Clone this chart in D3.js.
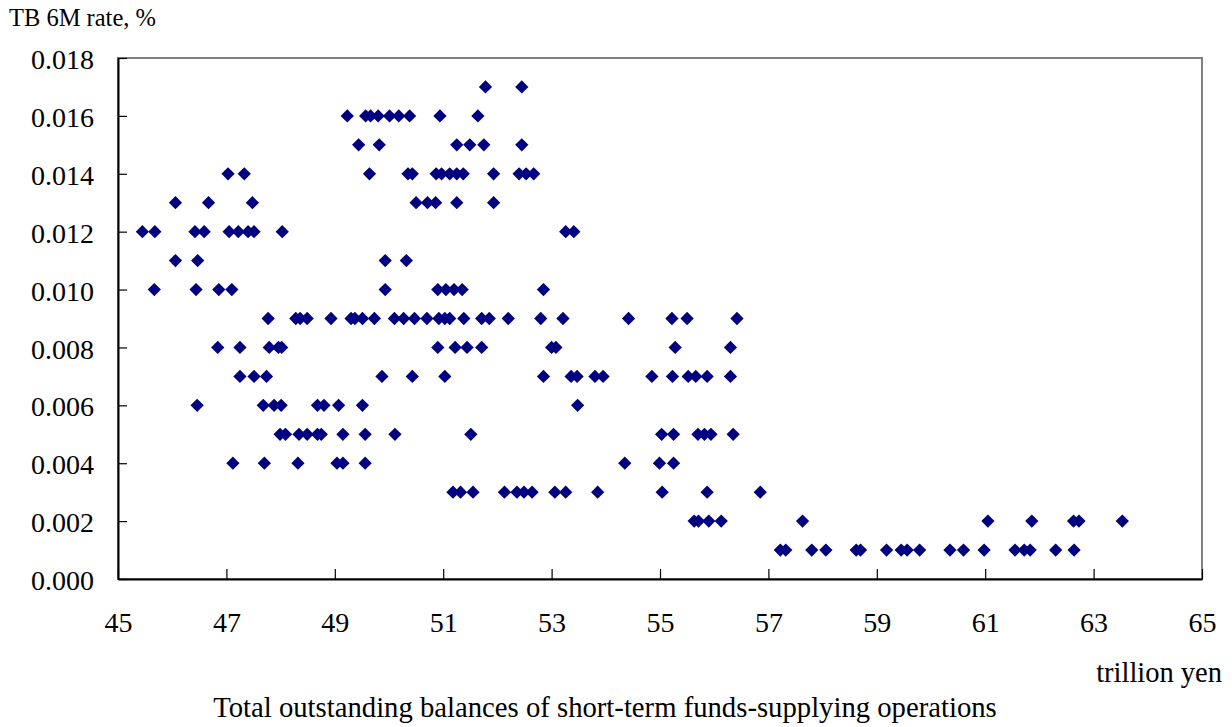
<!DOCTYPE html>
<html>
<head>
<meta charset="utf-8">
<script src="https://cdn.jsdelivr.net/npm/d3@7"></script>
<style>
  body { margin: 0; background: #fff; }
</style>
</head>
<body>
<svg id="chart" width="1232" height="727"></svg>
<script>
// balances (trillion yen), grouped by TB 6M rate (%)
var r017 = [51.78, 52.45]
var r016 = [49.23, 49.57, 49.66, 49.80, 50.01, 50.18, 50.38, 50.94, 51.64]
var r015 = [49.44, 49.82, 51.25, 51.49, 51.75, 52.45]
var r014 = [47.03, 47.33, 49.64, 50.35, 50.43, 50.87, 50.97, 51.12, 51.25, 51.37, 51.93, 52.40, 52.53, 52.67]
var r013 = [46.06, 46.67, 47.48, 50.50, 50.71, 50.86, 51.25, 51.93]
var r012 = [45.45, 45.68, 46.42, 46.59, 47.05, 47.22, 47.40, 47.51, 48.03, 53.26, 53.41]
var r011 = [46.06, 46.47, 49.93, 50.32]
var r010 = [45.67, 46.44, 46.86, 47.10, 49.93, 50.90, 51.05, 51.20, 51.35, 52.85]
var r009 = [47.77, 48.28, 48.36, 48.49, 48.93, 49.30, 49.37, 49.51, 49.73, 50.10, 50.27, 50.47, 50.70,
            50.92, 51.03, 51.12, 51.38, 51.71, 51.85, 52.20, 52.80, 53.21, 54.42, 55.22, 55.50, 56.42]
var r008 = [46.84, 47.25, 47.79, 47.96, 48.02, 50.90, 51.22, 51.44, 51.71, 53.00, 53.08, 55.28, 56.30]
var r007 = [47.25, 47.51, 47.74, 49.87, 50.43, 51.03, 52.85, 53.36, 53.47, 53.80, 53.95, 54.85, 55.23,
            55.52, 55.66, 55.87, 56.30]
var r006 = [46.46, 47.68, 47.88, 48.01, 48.68, 48.80, 49.07, 49.51, 53.48]
var r005 = [47.99, 48.09, 48.34, 48.49, 48.68, 48.75, 49.15, 49.56, 50.11, 51.51, 55.03, 55.25, 55.70,
            55.82, 55.94, 56.35]
var r004 = [47.12, 47.70, 48.32, 49.04, 49.15, 49.56, 54.35, 54.99, 55.25]
var r003 = [51.18, 51.32, 51.55, 52.13, 52.36, 52.49, 52.64, 53.06, 53.26, 53.85, 55.04, 55.87, 56.85]
var r002 = [55.63, 55.71, 55.90, 56.13, 57.63, 61.05, 61.86, 62.63, 62.73, 63.53]
var r001 = [57.22, 57.32, 57.80, 58.06, 58.62, 58.70, 59.18, 59.45, 59.56, 59.79, 60.35, 60.60, 60.98,
            61.55, 61.72, 61.83, 62.30, 62.64]

var rateRows = [
    [0.017, r017], [0.016, r016], [0.015, r015], [0.014, r014], [0.013, r013], [0.012, r012],
    [0.011, r011], [0.010, r010], [0.009, r009], [0.008, r008], [0.007, r007], [0.006, r006],
    [0.005, r005], [0.004, r004], [0.003, r003], [0.002, r002], [0.001, r001]
]

var xTicks = [45, 47, 49, 51, 53, 55, 57, 59, 61, 63, 65]
var yTicks = [0, 0.002, 0.004, 0.006, 0.008, 0.010, 0.012, 0.014, 0.016, 0.018]

var points = []
rateRows.forEach(function (row) {
    row[1].forEach(function (b) { points.push({ x: b, y: row[0] }) })
})

var font = '"Liberation Serif"'
var plot = { left: 118, right: 1202, top: 58, bottom: 579 }

var svg = d3.select('#chart')

var x = d3.scaleLinear().domain([45, 65]).range([plot.left, plot.right])
var y = d3.scaleLinear().domain([0, 0.018]).range([plot.bottom, plot.top])

// frame: gray top and right, black axes drawn over it
svg.append('rect')
    .attr('x', plot.left).attr('y', plot.top)
    .attr('width', plot.right - plot.left).attr('height', plot.bottom - plot.top)
    .attr('fill', 'none').attr('stroke', '#808080').attr('stroke-width', 2)

// ticks point inward
var xAxis = svg.append('g')
    .attr('transform', 'translate(0,' + plot.bottom + ')')
    .call(d3.axisBottom(x).tickValues(xTicks).tickSizeInner(-10).tickSizeOuter(0).tickPadding(33)
        .tickFormat(d3.format('d')))
var yAxis = svg.append('g')
    .attr('transform', 'translate(' + plot.left + ',0)')
    .call(d3.axisLeft(y).tickValues(yTicks).tickSizeInner(-9).tickSizeOuter(0).tickPadding(24)
        .tickFormat(d3.format('.3f')))

;[xAxis, yAxis].forEach(function (g) {
    g.attr('font-family', null).attr('font-size', null)
    g.select('.domain').attr('stroke', '#000').attr('stroke-width', 2)
    g.selectAll('.tick line').attr('stroke', '#000').attr('stroke-width', 1.2)
    g.selectAll('.tick text').attr('fill', '#000')
        .style('font-family', font).style('font-size', '28px')
})
yAxis.selectAll('.tick text').attr('dy', '0.38em')

// diamonds
var diamond = d3.symbol().type(d3.symbolDiamond2).size(112)
svg.append('g').selectAll('path')
    .data(points)
    .enter().append('path')
    .attr('d', diamond)
    .attr('transform', function (d) { return 'translate(' + x(d.x) + ',' + y(d.y) + ')' })
    .attr('fill', '#000080')

// labels
function label(tx, ty, size, anchor, str) {
    svg.append('text').attr('x', tx).attr('y', ty).attr('text-anchor', anchor)
        .style('font-family', font).style('font-size', size + 'px').text(str)
}
label(9, 26, 24.5, 'start', 'TB 6M rate, %')
label(1222, 682, 28.5, 'end', 'trillion yen')
label(605, 717, 28.7, 'middle', 'Total outstanding balances of short-term funds-supplying operations')
</script>
</body>
</html>
